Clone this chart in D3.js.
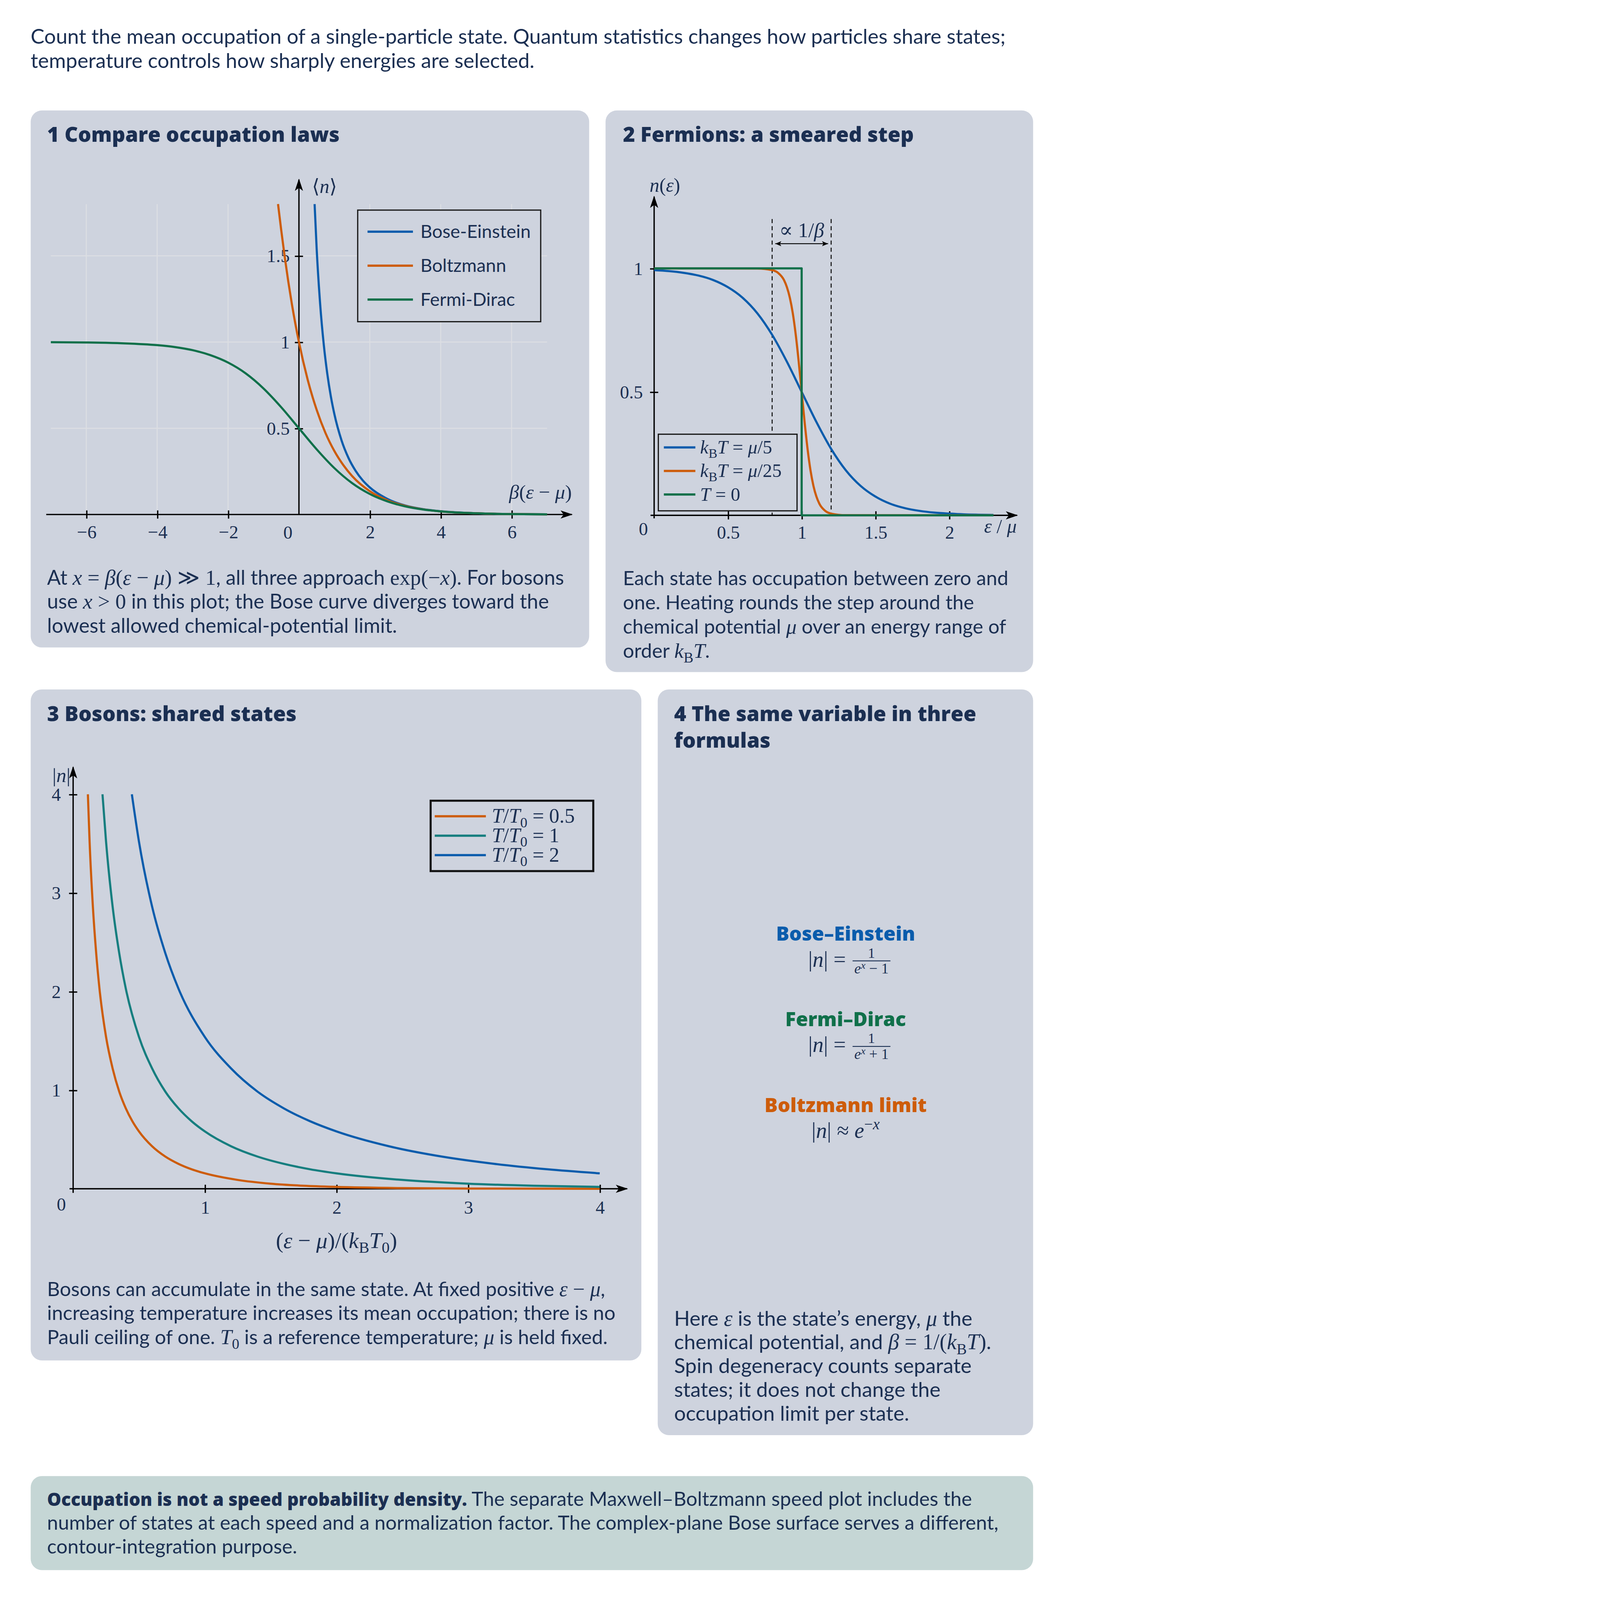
<!DOCTYPE html>
<html>
<head>
<meta charset="utf-8">
<script src="https://cdn.jsdelivr.net/npm/d3@7"></script>
<style>
  html, body { margin: 0; padding: 0; background: #fff; overflow: hidden; }
  svg { display: block; width: 100vw; height: 100vh; }
</style>
</head>
<body>
<script>
// ---------- data ----------
// panel 1: occupation vs x = beta(eps - mu)
const fdX = [-7, -6, -5, -4, -3.5, -3, -2.5, -2, -1.5, -1, -0.5, 0, 0.5, 1, 1.5, 2, 2.5, 3, 3.5, 4, 5, 6, 7];
const fdN = [0.999, 0.9975, 0.993, 0.982, 0.971, 0.953, 0.924, 0.881, 0.818, 0.731, 0.622, 0.5, 0.378, 0.269, 0.182, 0.119, 0.076, 0.047, 0.029, 0.018, 0.007, 0.0025, 0.001];
const mbX = [-0.59, -0.5, -0.4, -0.3, -0.2, -0.1, 0, 0.25, 0.5, 0.75, 1, 1.25, 1.5, 2, 2.5, 3, 3.5, 4, 5, 6, 7];
const mbN = [1.8, 1.649, 1.492, 1.35, 1.221, 1.105, 1, 0.779, 0.607, 0.472, 0.368, 0.287, 0.223, 0.135, 0.082, 0.05, 0.03, 0.018, 0.007, 0.0025, 0.001];
const beX = [0.442, 0.5, 0.6, 0.7, 0.8, 0.9, 1, 1.2, 1.4, 1.6, 1.8, 2, 2.5, 3, 3.5, 4, 5, 6, 7];
const beN = [1.8, 1.541, 1.216, 0.986, 0.816, 0.685, 0.582, 0.431, 0.327, 0.253, 0.198, 0.157, 0.09, 0.052, 0.031, 0.019, 0.007, 0.0025, 0.001];
const lawNames = ["Bose-Einstein", "Boltzmann", "Fermi-Dirac"];
const p1XTicks = [-6, -4, -2, 2, 4, 6];
const p1YTicks = [0.5, 1, 1.5];

// panel 2: Fermi function vs eps/mu
const warmX = [0, 0.1, 0.2, 0.3, 0.4, 0.5, 0.6, 0.7, 0.8, 0.9, 1, 1.1, 1.2, 1.3, 1.4, 1.5, 1.6, 1.7, 1.8, 1.9, 2, 2.1, 2.2, 2.3];
const warmN = [0.993, 0.989, 0.982, 0.971, 0.953, 0.924, 0.881, 0.818, 0.731, 0.622, 0.5, 0.378, 0.269, 0.182, 0.119, 0.076, 0.047, 0.029, 0.018, 0.011, 0.007, 0.004, 0.0025, 0.0015];
const coolX = [0, 0.7, 0.8, 0.84, 0.88, 0.9, 0.92, 0.94, 0.96, 0.98, 1, 1.02, 1.04, 1.06, 1.08, 1.1, 1.12, 1.16, 1.2, 1.3, 2.3];
const coolN = [1, 0.9995, 0.993, 0.982, 0.953, 0.924, 0.881, 0.818, 0.731, 0.622, 0.5, 0.378, 0.269, 0.182, 0.119, 0.076, 0.047, 0.018, 0.007, 0.0006, 0];
const stepX = [0, 1, 1, 2.3];
const stepN = [1, 1, 0, 0];
const fermiLabels = ["$k_BT = μ/5$", "$k_BT = μ/25$", "$T = 0$"];
const p2XTicks = [0.5, 1, 1.5, 2];
const p2YTicks = [0.5, 1];
const widthMarks = [0.8, 1.2];

// panel 3: Bose occupation vs (eps - mu)/(kB T0)
const boseLabels = ["$T/T_0 = 0.5$", "$T/T_0 = 1$", "$T/T_0 = 2$"];
const halfX = [0.112, 0.125, 0.15, 0.175, 0.2, 0.25, 0.3, 0.35, 0.4, 0.45, 0.5, 0.6, 0.7, 0.8, 0.9, 1, 1.25, 1.5, 1.75, 2, 2.5, 3, 4];
const halfN = [4, 3.52, 2.86, 2.39, 2.03, 1.54, 1.22, 0.986, 0.816, 0.685, 0.582, 0.431, 0.327, 0.253, 0.198, 0.157, 0.09, 0.052, 0.031, 0.019, 0.007, 0.0025, 0.0003];
const oneX = [0.223, 0.25, 0.3, 0.35, 0.4, 0.5, 0.6, 0.7, 0.8, 0.9, 1, 1.2, 1.4, 1.6, 1.8, 2, 2.5, 3, 3.5, 4];
const oneN = [4, 3.52, 2.86, 2.39, 2.03, 1.54, 1.22, 0.986, 0.816, 0.685, 0.582, 0.431, 0.327, 0.253, 0.198, 0.157, 0.09, 0.052, 0.031, 0.019];
const twoX = [0.446, 0.5, 0.6, 0.7, 0.8, 1, 1.2, 1.4, 1.6, 1.8, 2, 2.4, 2.8, 3.2, 3.6, 4];
const twoN = [4, 3.52, 2.86, 2.39, 2.03, 1.54, 1.22, 0.986, 0.816, 0.685, 0.582, 0.431, 0.327, 0.253, 0.198, 0.157];
const p3XTicks = [1, 2, 3, 4];
const p3YTicks = [1, 2, 3, 4];

// ---------- look ----------
const SANS = "Lato, 'Open Sans', sans-serif";
const HEAVY = "'Open Sans', Lato, sans-serif";
const SERIF = "'Liberation Serif', 'DejaVu Serif', serif";
const INK = "#1b2f52";
const PANEL = "#ced3de";
const NOTE = "#c5d6d5";
const BLUE = "#0a5cac", ORANGE = "#cd5c0a", GREEN = "#10704a", TEAL = "#167e7f";
const LETTER = /[A-Za-zεμβ]/;
const TICK = 18;

const W = 1040, H = 6517 * 1040 / 4333;
const svg = d3.select("body").append("svg")
  .attr("viewBox", `0 0 ${W} ${H}`)
  .attr("preserveAspectRatio", "xMinYMin meet")
  .style("white-space", "pre");

const defs = svg.append("defs");
defs.append("marker").attr("id", "arr")
  .attr("viewBox", "0 0 12 8").attr("refX", 11).attr("refY", 4)
  .attr("markerWidth", 12).attr("markerHeight", 8)
  .attr("markerUnits", "userSpaceOnUse").attr("orient", "auto")
  .append("path").attr("d", "M0,0 L12,4 L0,8 L3,4 Z").attr("fill", "#000");
defs.append("marker").attr("id", "arrS")
  .attr("viewBox", "0 0 6 5").attr("refX", 6).attr("refY", 2.5)
  .attr("markerWidth", 6).attr("markerHeight", 5)
  .attr("markerUnits", "userSpaceOnUse").attr("orient", "auto-start-reverse")
  .append("path").attr("d", "M0,0 L6,2.5 L0,5 L1.5,2.5 Z").attr("fill", "#000");

// text with $math$ pieces (_ = subscript, ~..~ = upright) and *bold* pieces
function rich(parent, x, y, str, o) {
  o = o || {};
  const size = o.size || 17;
  const t = parent.append("text").attr("x", x).attr("y", y)
    .attr("fill", o.fill || INK).attr("font-size", size)
    .attr("text-anchor", o.anchor || "start");
  let shift = 0;
  function span(s, font, style, weight, fs, sh) {
    if (!s) return;
    const ts = t.append("tspan").text(s).attr("font-family", font)
      .attr("font-style", style).attr("font-weight", weight).attr("font-size", fs);
    if (sh !== shift) { ts.attr("dy", sh - shift); shift = sh; }
  }
  const mfs = size * (o.mathScale || 1.06);
  str.split("$").forEach((p, i) => {
    if (i % 2 === 0) {
      p.split("*").forEach((q, k) => {
        if (k % 2) span(q, HEAVY, "normal", 800, size * (o.boldScale || 1), 0);
        else span(q, o.font || SANS, "normal", o.weight || 400, size, 0);
      });
    } else {
      let j = 0;
      while (j < p.length) {
        const c = p[j];
        if (c === "_") { span(p[j + 1], SERIF, "normal", 400, mfs * 0.7, mfs * 0.22); j += 2; continue; }
        if (c === "~") { const k = p.indexOf("~", j + 1); span(p.slice(j + 1, k), SERIF, "normal", 400, mfs, 0); j = k + 1; continue; }
        const isL = LETTER.test(c);
        let k = j;
        while (k < p.length && p[k] !== "_" && p[k] !== "~" && LETTER.test(p[k]) === isL) k++;
        span(p.slice(j, k), SERIF, isL ? "italic" : "normal", 400, mfs, 0);
        j = k;
      }
    }
  });
  return t;
}

// choose a font size so that a given line has the reference width
function fitSize(str, target, base, o) {
  const t = rich(svg, 0, -200, str, Object.assign({}, o, { size: base }));
  const w = t.node().getBBox().width;
  t.remove();
  const k = Math.max(0.8, Math.min(1.25, target / w));
  return base * k;
}

function block(lines, x, y0, lead, target, fitLine, o) {
  const size = fitSize(lines[fitLine], target, o && o.size || 17, o);
  lines.forEach((s, i) => rich(svg, x, y0 + i * lead, s, Object.assign({}, o, { size })));
}

function panel(x0, y0, x1, y1, fill) {
  svg.append("rect").attr("x", x0).attr("y", y0)
    .attr("width", x1 - x0).attr("height", y1 - y0)
    .attr("rx", 11).attr("fill", fill || PANEL);
}

function arrowLine(x1, y1, x2, y2) {
  svg.append("line").attr("x1", x1).attr("y1", y1).attr("x2", x2).attr("y2", y2)
    .attr("stroke", "#000").attr("stroke-width", 1.3).attr("marker-end", "url(#arr)");
}

// ticks that cross the axis line
function ticks(axis, tx, ty, vertical) {
  svg.append("g").attr("transform", `translate(${tx},${ty})`)
    .call(axis)
    .call(g => g.select(".domain").remove())
    .call(g => g.selectAll(".tick line").attr("stroke", "#000").attr("stroke-width", 1.3)
      .attr(vertical ? "x1" : "y1", vertical ? 4 : -4))
    .call(g => g.selectAll(".tick text").attr("fill", INK)
      .attr("font-family", SERIF).attr("font-size", TICK));
}

function curve(x, y, xs, ys, color, kind) {
  const pts = xs.map((d, i) => [d, ys[i]]);
  svg.append("path")
    .attr("d", d3.line().x(d => x(d[0])).y(d => y(d[1])).curve(kind || d3.curveMonotoneX)(pts))
    .attr("fill", "none").attr("stroke", color).attr("stroke-width", 2.1)
    .attr("stroke-linejoin", "round");
}

// ---------- intro ----------
block([
  "Count the mean occupation of a single-particle state. Quantum statistics changes how particles share states;",
  "temperature controls how sharply energies are selected."
], 30, 42.8, 23.5, 953, 0, { size: 18 });

// ---------- panels ----------
panel(30, 108, 576, 633);
panel(592, 108, 1010, 657);
panel(30, 674, 627, 1330);
panel(643, 674, 1010, 1403);
panel(30, 1443, 1010, 1535, NOTE);

const titleSize = fitSize("1 Compare occupation laws", 286, 20, { font: HEAVY, weight: 800 });
const title = (x, y, s) => rich(svg, x, y, s, { size: titleSize, font: HEAVY, weight: 800 });
title(46, 138.5, "1 Compare occupation laws");
title(609, 138.5, "2 Fermions: a smeared step");
title(46, 705, "3 Bosons: shared states");
title(659, 705, "4 The same variable in three");
title(659, 731, "formulas");

// ---------- panel 1 ----------
{
  const x = d3.scaleLinear().domain([-7, 7]).range([49.7, 534.8]);
  const y = d3.scaleLinear().domain([0, 1.8]).range([503, 199.5]);
  const grid = svg.append("g").attr("stroke", "#dcdee3").attr("stroke-width", 1);
  p1XTicks.forEach(v => grid.append("line").attr("x1", x(v)).attr("x2", x(v)).attr("y1", y(0)).attr("y2", y(1.8)));
  p1YTicks.forEach(v => grid.append("line").attr("x1", x(-7)).attr("x2", x(7)).attr("y1", y(v)).attr("y2", y(v)));

  arrowLine(45.2, y(0), 559, y(0));
  arrowLine(x(0), y(0), x(0), 175.6);
  ticks(d3.axisBottom(x).tickValues(p1XTicks).tickSize(4).tickPadding(6.5).tickFormat(d3.format("d")), 0, y(0));
  ticks(d3.axisLeft(y).tickValues(p1YTicks).tickSize(4).tickPadding(5).tickFormat(d3.format("")), x(0), 0, true);
  rich(svg, 281.5, 526.5, "$0$", { size: TICK, mathScale: 1, anchor: "middle" });
  rich(svg, 305, 188.5, "$⟨n⟩$", { size: 18 });
  rich(svg, 559, 487.5, "$β(ε − μ)$", { size: 18.5, anchor: "end" });

  curve(x, y, beX, beN, BLUE);
  curve(x, y, mbX, mbN, ORANGE);
  curve(x, y, fdX, fdN, GREEN);

  svg.append("rect").attr("x", 349.7).attr("y", 205.4).attr("width", 178.9).attr("height", 109.1)
    .attr("fill", PANEL).attr("stroke", "#1a1a1a").attr("stroke-width", 1.2);
  const lsize = fitSize(lawNames[0], 107.8, 17);
  [BLUE, ORANGE, GREEN].forEach((c, i) => {
    const ry = 226.5 + i * 33.2;
    svg.append("line").attr("x1", 359.3).attr("x2", 403.7).attr("y1", ry).attr("y2", ry)
      .attr("stroke", c).attr("stroke-width", 2.2);
    rich(svg, 411, ry + 6, lawNames[i], { size: lsize });
  });

  block([
    "At $x = β(ε − μ) ≫ 1$, all three approach $~exp~(−x)$. For bosons",
    "use $x > 0$ in this plot; the Bose curve diverges toward the",
    "lowest allowed chemical-potential limit."
  ], 46, 571.5, 23.6, 505, 0, { size: 17 });
}

// ---------- panel 2 ----------
{
  const x = d3.scaleLinear().domain([0, 2.3]).range([639.5, 971.2]);
  const y = d3.scaleLinear().domain([0, 1]).range([503.8, 262.4]);
  widthMarks.forEach(v => svg.append("line")
    .attr("x1", x(v)).attr("x2", x(v)).attr("y1", y(1.2)).attr("y2", y(0))
    .attr("stroke", "#111").attr("stroke-width", 1).attr("stroke-dasharray", "4,3"));
  svg.append("line").attr("x1", x(0.8) + 3).attr("x2", x(1.2) - 3).attr("y1", y(1.1)).attr("y2", y(1.1))
    .attr("stroke", "#000").attr("stroke-width", 0.9)
    .attr("marker-start", "url(#arrS)").attr("marker-end", "url(#arrS)");
  rich(svg, x(1), 232, "$∝ 1/β$", { size: 20, mathScale: 1, anchor: "middle" });

  arrowLine(636, y(0), 994.3, y(0));
  arrowLine(x(0), y(0) + 3, x(0), 192.3);
  ticks(d3.axisBottom(x).tickValues(p2XTicks).tickSize(4).tickPadding(6).tickFormat(d3.format("")), 0, y(0));
  ticks(d3.axisLeft(y).tickValues(p2YTicks).tickSize(4).tickPadding(7).tickFormat(d3.format("")), x(0), 0, true);
  rich(svg, 629, 523, "$0$", { size: TICK, mathScale: 1, anchor: "middle" });
  rich(svg, 650, 187.5, "$n(ε)$", { size: 18, anchor: "middle" });
  rich(svg, 978, 521, "$ε / μ$", { size: 18, anchor: "middle" });

  curve(x, y, warmX, warmN, BLUE);
  curve(x, y, coolX, coolN, ORANGE);
  curve(x, y, stepX, stepN, GREEN, d3.curveLinear);

  svg.append("rect").attr("x", 643.6).attr("y", 424.5).attr("width", 135.6).attr("height", 74.9)
    .attr("fill", PANEL).attr("stroke", "#1a1a1a").attr("stroke-width", 1.2);
  [BLUE, ORANGE, GREEN].forEach((c, i) => {
    const ry = 437.4 + i * 23;
    svg.append("line").attr("x1", 649).attr("x2", 679.8).attr("y1", ry).attr("y2", ry)
      .attr("stroke", c).attr("stroke-width", 2.2);
    rich(svg, 684.4, ry + 6, fermiLabels[i], { size: 18.5, mathScale: 1 });
  });

  block([
    "Each state has occupation between zero and",
    "one. Heating rounds the step around the",
    "chemical potential $μ$ over an energy range of",
    "order $k_BT$."
  ], 609, 572, 23.7, 376.7, 0, { size: 17 });
}

// ---------- panel 3 ----------
{
  const x = d3.scaleLinear().domain([0, 4]).range([71.5, 586.3]);
  const y = d3.scaleLinear().domain([0, 4]).range([1162.2, 776.5]);
  arrowLine(68, y(0), 613, y(0));
  arrowLine(x(0), y(0) + 4, x(0), 750);
  ticks(d3.axisBottom(x).tickValues(p3XTicks).tickSize(4).tickPadding(7.5).tickFormat(d3.format("d")), 0, y(0));
  ticks(d3.axisLeft(y).tickValues(p3YTicks).tickSize(4).tickPadding(8).tickFormat(d3.format("d")), x(0), 0, true);
  rich(svg, 60, 1183.5, "$0$", { size: TICK, mathScale: 1, anchor: "middle" });
  rich(svg, 60, 764.5, "$|n|$", { size: 18.5, anchor: "middle" });
  rich(svg, 329, 1220, "$(ε − μ)/(k_BT_0)$", { size: 22, mathScale: 1, anchor: "middle" });

  curve(x, y, halfX, halfN, ORANGE);
  curve(x, y, oneX, oneN, TEAL);
  curve(x, y, twoX, twoN, BLUE);

  svg.append("rect").attr("x", 421).attr("y", 782.8).attr("width", 159).attr("height", 68.8)
    .attr("fill", PANEL).attr("stroke", "#111").attr("stroke-width", 2);
  [ORANGE, TEAL, BLUE].forEach((c, i) => {
    const ry = 798 + i * 19;
    svg.append("line").attr("x1", 425).attr("x2", 475).attr("y1", ry).attr("y2", ry)
      .attr("stroke", c).attr("stroke-width", 2.2);
    rich(svg, 480.8, ry + 6.3, boseLabels[i], { size: 20, mathScale: 1 });
  });

  block([
    "Bosons can accumulate in the same state. At fixed positive $ε − μ$,",
    "increasing temperature increases its mean occupation; there is no",
    "Pauli ceiling of one. $T_0$ is a reference temperature; $μ$ is held fixed."
  ], 46, 1267, 23.5, 555.7, 1, { size: 17 });
}

// ---------- panel 4 ----------
{
  const cx = 826.7;
  const hs = fitSize("Bose–Einstein", 136, 18, { font: HEAVY, weight: 800 });
  const heads = [["Bose–Einstein", BLUE, 919.5], ["Fermi–Dirac", GREEN, 1003.1], ["Boltzmann limit", ORANGE, 1087.2]];
  heads.forEach(h => rich(svg, cx, h[2], h[0], { size: hs, font: HEAVY, weight: 800, fill: h[1], anchor: "middle" }));

  // the two fractions
  [["−", 945], ["+", 1028.6]].forEach(([op, by]) => {
    rich(svg, 827, by, "$|n|  = $", { size: 21.5, mathScale: 1, anchor: "end" });
    svg.append("line").attr("x1", 833.5).attr("x2", 870.5).attr("y1", by - 5.6).attr("y2", by - 5.6)
      .attr("stroke", INK).attr("stroke-width", 0.9);
    rich(svg, 852, by - 8.8, "$1$", { size: 14, mathScale: 1, anchor: "middle" });
    const d = svg.append("text").attr("x", 852).attr("y", by + 6.8).attr("text-anchor", "middle")
      .attr("fill", INK).attr("font-family", SERIF).attr("font-size", 14.5);
    d.append("tspan").text("e").attr("font-style", "italic");
    d.append("tspan").text("x").attr("font-style", "italic").attr("font-size", 10).attr("dy", -4.8);
    d.append("tspan").text(` ${op} 1`).attr("dy", 4.8);
  });
  const b = svg.append("text").attr("x", cx).attr("y", 1112.5).attr("text-anchor", "middle")
    .attr("fill", INK).attr("font-family", SERIF).attr("font-size", 21.5);
  b.append("tspan").text("|");
  b.append("tspan").text("n").attr("font-style", "italic");
  b.append("tspan").text("|  ≈  ");
  b.append("tspan").text("e").attr("font-style", "italic");
  b.append("tspan").text("−").attr("font-size", 15).attr("dy", -8.5);
  b.append("tspan").text("x").attr("font-size", 15).attr("font-style", "italic");

  block([
    "Here $ε$ is the state’s energy, $μ$ the",
    "chemical potential, and $β = 1/(k_BT)$.",
    "Spin degeneracy counts separate",
    "states; it does not change the",
    "occupation limit per state."
  ], 659, 1296, 23.2, 310, 1, { size: 17 });
}

// ---------- note ----------
block([
  "*Occupation is not a speed probability density.* The separate Maxwell–Boltzmann speed plot includes the",
  "number of states at each speed and a normalization factor. The complex-plane Bose surface serves a different,",
  "contour-integration purpose."
], 46, 1472, 23.3, 930, 1, { size: 17, boldScale: 0.9 });
</script>
</body>
</html>
